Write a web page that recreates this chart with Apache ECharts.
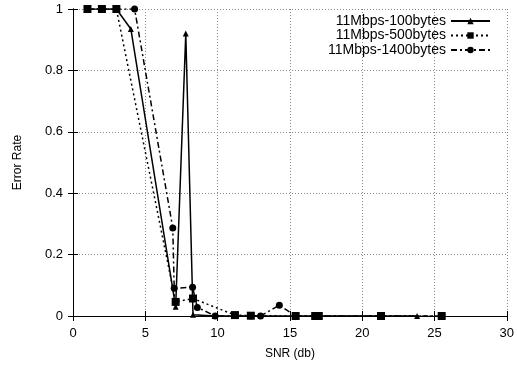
<!DOCTYPE html>
<html>
<head>
<meta charset="utf-8">
<script src="https://cdn.jsdelivr.net/npm/echarts@6/dist/echarts.min.js"></script>
<style>html,body{margin:0;padding:0;background:#fff;}#c{width:517px;height:365px;}</style>
</head>
<body>
<div id="c"></div>
<script>
const seriesNames = ['11Mbps-100bytes', '11Mbps-500bytes', '11Mbps-1400bytes'];
const snr100 = [1, 2, 3, 4.0, 7.1, 7.8, 8.3, 9.8, 11.2, 12.3, 15.4, 17.0, 21.3, 23.8];
const err100 = [1, 1, 1, 0.935, 0.03, 0.92, 0.004, 0, 0, 0, 0, 0, 0, 0];
const snr500 = [1, 2, 3, 7.1, 8.3, 11.2, 12.3, 15.4, 16.75, 17.0, 21.3, 25.5];
const err500 = [1, 1, 1, 0.046, 0.057, 0.003, 0.001, 0, 0, 0, 0, 0];
const snr1400 = [1, 2, 3, 4.26, 6.9, 7.0, 8.27, 8.6, 9.83, 12.3, 12.97, 14.27, 15.4, 16.75, 17.0, 21.3, 25.5];
const err1400 = [1, 1, 1, 1, 0.287, 0.09, 0.094, 0.028, 0, 0, 0, 0.035, 0, 0, 0, 0, 0];
const xTicks = [0, 5, 10, 15, 20, 25, 30];
const yTicks = [0, 0.2, 0.4, 0.6, 0.8, 1];

function pairs(xs, ys) { return xs.map((x, i) => [x, ys[i]]); }

const chart = echarts.init(document.getElementById('c'));
const font = 'Liberation Sans, Arial, Helvetica, sans-serif';
const tickStyle = { show: true, inside: true, length: 5, lineStyle: { color: '#000', width: 1 } };
chart.setOption({
  animation: false,
  backgroundColor: '#fff',
  textStyle: { fontFamily: font, color: '#000' },
  grid: { left: 73, right: 8, top: 9, bottom: 43 },
  legend: {
    right: 26, top: 14, orient: 'vertical', align: 'right', padding: 0,
    itemWidth: 39, itemHeight: 8, itemGap: 0.5,
    textStyle: { fontFamily: font, fontSize: 14, lineHeight: 14, color: '#000' },
    data: seriesNames
  },
  xAxis: [{
    type: 'value', min: 0, max: 30, interval: 5,
    name: 'SNR (db)', nameLocation: 'middle', nameGap: 32,
    nameTextStyle: { fontFamily: font, fontSize: 12, color: '#000' },
    axisLine: { show: true, lineStyle: { color: '#000', width: 1 } },
    axisTick: tickStyle,
    axisLabel: { fontFamily: font, fontSize: 13, color: '#000', margin: 11 },
    splitLine: { show: true, lineStyle: { color: '#888', type: [1, 2], width: 1 } }
  }, {
    type: 'value', min: 0, max: 30, interval: 5, position: 'top',
    axisLine: { show: true, lineStyle: { color: '#000', width: 1 } },
    axisTick: tickStyle, axisLabel: { show: false }, splitLine: { show: false }
  }],
  yAxis: [{
    type: 'value', min: 0, max: 1, interval: 0.2,
    name: 'Error Rate', nameLocation: 'middle', nameGap: 49, nameRotate: 90,
    nameTextStyle: { fontFamily: font, fontSize: 12, color: '#000' },
    axisLine: { show: true, lineStyle: { color: '#000', width: 1 } },
    axisTick: tickStyle,
    axisLabel: { fontFamily: font, fontSize: 13, color: '#000', margin: 10,
      formatter: v => { const t = yTicks.find(k => Math.abs(k - v) < 1e-6); return t === undefined ? '' : String(t); } },
    splitLine: { show: true, lineStyle: { color: '#888', type: [1, 2], width: 1 } }
  }, {
    type: 'value', min: 0, max: 1, interval: 0.2, position: 'right',
    axisLine: { show: true, lineStyle: { color: '#000', width: 1 } },
    axisTick: tickStyle, axisLabel: { show: false }, splitLine: { show: false }
  }],
  series: [{
    name: seriesNames[0], type: 'line', data: pairs(snr100, err100),
    symbol: 'triangle', symbolSize: 6,
    lineStyle: { color: '#000', width: 1.5, type: 'solid' },
    itemStyle: { color: '#000' }, z: 3
  }, {
    name: seriesNames[1], type: 'line', data: pairs(snr500, err500),
    symbol: 'rect', symbolSize: 8,
    lineStyle: { color: '#000', width: 1.5, type: [2, 3] },
    itemStyle: { color: '#000' }, z: 4
  }, {
    name: seriesNames[2], type: 'line', data: pairs(snr1400, err1400),
    symbol: 'circle', symbolSize: 7,
    lineStyle: { color: '#000', width: 1.5, type: [6, 3, 2, 3] },
    itemStyle: { color: '#000' }, z: 5
  }]
});
</script>
</body>
</html>
